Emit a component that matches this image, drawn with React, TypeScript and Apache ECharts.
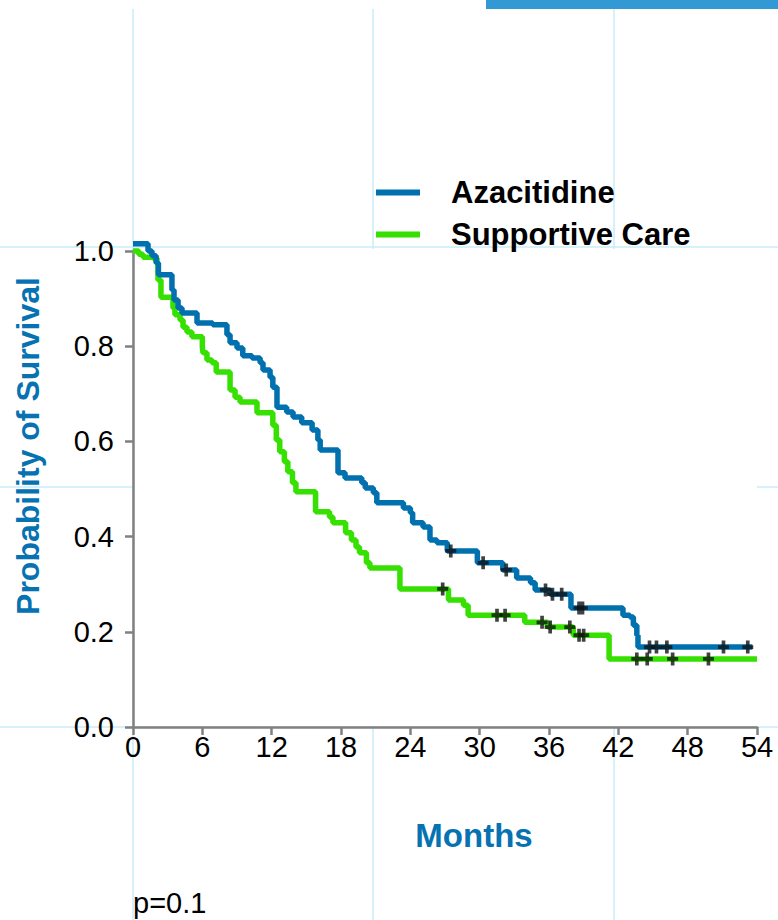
import React, { useEffect, useRef } from "react";
import * as echarts from "echarts";

// Kaplan-Meier curves (months, survival probability after each step)
const aziTimes = [0, 1.3, 1.64, 2.0, 2.2, 3.37, 3.55, 3.9, 4.24, 5.54, 6.9, 8.13, 8.4, 9.0, 9.5, 10.3, 11.0, 11.25, 11.86, 12.1, 12.46, 13.3, 13.85, 14.6, 15.5, 16.0, 16.2, 17.74, 18.35, 19.8, 20.1, 20.8, 21.1, 23.4, 24.0, 24.2, 25.1, 25.7, 26.3, 27.2, 29.8, 32.0, 33.2, 34.4, 34.8, 36.1, 37.9, 42.4, 43.0, 43.3, 43.6, 43.7, 53.6];
const aziSurv = [1.015, 1.0, 0.99, 0.975, 0.95, 0.918, 0.897, 0.88, 0.87, 0.849, 0.845, 0.824, 0.807, 0.796, 0.78, 0.775, 0.765, 0.75, 0.735, 0.714, 0.672, 0.662, 0.651, 0.639, 0.624, 0.603, 0.582, 0.534, 0.523, 0.513, 0.502, 0.492, 0.471, 0.46, 0.45, 0.429, 0.42, 0.393, 0.387, 0.37, 0.345, 0.33, 0.313, 0.303, 0.288, 0.279, 0.25, 0.235, 0.231, 0.214, 0.193, 0.168, 0.168];
const aziCensored = [27.5, 30.3, 32.3, 35.7, 36.3, 37.1, 38.6, 38.9, 44.7, 45.3, 46.2, 51.1, 53.2];

const scTimes = [0, 0.5, 0.87, 1.73, 2.08, 2.16, 2.42, 3.46, 3.63, 4.07, 4.33, 4.67, 5.1, 6.0, 6.06, 6.4, 6.84, 7.2, 8.4, 8.83, 9.26, 10.73, 12.1, 12.4, 12.7, 13.1, 13.4, 13.8, 14.1, 15.8, 17.0, 17.3, 18.4, 18.9, 19.3, 19.6, 20.2, 20.5, 23.1, 27.3, 28.6, 29.0, 33.9, 35.9, 38.1, 41.2, 54];
const scSurv = [1.0, 0.993, 0.987, 0.985, 0.975, 0.939, 0.903, 0.88, 0.866, 0.855, 0.84, 0.83, 0.82, 0.798, 0.786, 0.771, 0.765, 0.746, 0.708, 0.693, 0.683, 0.66, 0.634, 0.603, 0.578, 0.557, 0.536, 0.513, 0.494, 0.452, 0.441, 0.429, 0.408, 0.393, 0.378, 0.366, 0.345, 0.334, 0.29, 0.267, 0.256, 0.235, 0.22, 0.21, 0.193, 0.143, 0.143];
const scCensored = [26.8, 31.5, 32.2, 35.4, 36.1, 37.8, 38.6, 39.0, 43.6, 44.5, 46.7, 49.8];

const seriesNames = ["Azacitidine", "Supportive Care"];
const xTicks = { min: 0, max: 54, interval: 6 };
const yTicks = { min: 0, max: 1, interval: 0.2 };

const BLUE = "#0071ae";
const GREEN = "#36e000";
const TITLE_BLUE = "#0672b2";
const SLIDE_LINE = "#c8ecfa";
const FONT = "'Liberation Sans', Arial, sans-serif";

function survAt(times: number[], surv: number[], t: number) {
  let s = surv[0];
  for (let i = 0; i < times.length; i++) {
    if (times[i] <= t) s = surv[i];
  }
  return s;
}

const plusSymbol = "path://M4,0H8V5H12V9H8V14H4V9H0V5H4Z";

export default function App() {
  const ref = useRef<HTMLDivElement>(null);
  useEffect(() => {
    document.body.style.margin = "0";
    const chart = echarts.init(ref.current!, null, { renderer: "svg" });
    const aziData = aziTimes.map((t, i) => [t, aziSurv[i]]);
    const scData = scTimes.map((t, i) => [t, scSurv[i]]);
    const aziCens = aziCensored.map((t) => [t, survAt(aziTimes, aziSurv, t)]);
    const scCens = scCensored.map((t) => [t, survAt(scTimes, scSurv, t)]);

    const slideLines: any[] = [];
    [133, 373, 614].forEach((x) =>
      slideLines.push({
        type: "line",
        z: -10,
        shape: { x1: x, y1: 9, x2: x, y2: 920 },
        style: { stroke: SLIDE_LINE, lineWidth: 1.5 },
      })
    );
    [247, 487, 727].forEach((y) =>
      slideLines.push({
        type: "line",
        z: -10,
        shape: { x1: 0, y1: y, x2: 778, y2: y },
        style: { stroke: SLIDE_LINE, lineWidth: 1.5 },
      })
    );

    chart.setOption({
      animation: false,
      backgroundColor: "#ffffff",
      textStyle: { fontFamily: FONT },
      grid: { left: 133, right: 21, top: 251, bottom: 193, containLabel: false },
      legend: {
        data: seriesNames,
        orient: "vertical",
        left: 376,
        top: 177,
        padding: 0,
        itemWidth: 44,
        itemHeight: 6,
        itemGap: 11,
        icon: "rect",
        textStyle: {
          fontSize: 31,
          fontWeight: "bold",
          color: "#000",
          fontFamily: FONT,
          padding: [0, 0, 0, 26],
        },
      },
      graphic: [
        ...slideLines,
        {
          type: "rect",
          z: -5,
          shape: { x: 134, y: 249, width: 623, height: 477 },
          style: { fill: "#ffffff" },
        },
        {
          type: "rect",
          z: -5,
          shape: { x: 486, y: 0, width: 292, height: 9 },
          style: { fill: "#3399d4" },
        },
        {
          type: "text",
          x: 474,
          y: 835,
          style: {
            text: "Months",
            fill: TITLE_BLUE,
            font: `bold 33px ${FONT}`,
            align: "center",
            verticalAlign: "middle",
          },
        },
        {
          type: "text",
          x: 28,
          y: 446,
          rotation: Math.PI / 2,
          style: {
            text: "Probability of Survival",
            fill: TITLE_BLUE,
            font: `bold 32px ${FONT}`,
            align: "center",
            verticalAlign: "middle",
          },
        },
        {
          type: "text",
          x: 133,
          y: 903,
          style: {
            text: "p=0.1",
            fill: "#000",
            font: `29px ${FONT}`,
            align: "left",
            verticalAlign: "middle",
          },
        },
      ],
      xAxis: {
        type: "value",
        min: xTicks.min,
        max: xTicks.max,
        interval: xTicks.interval,
        axisLine: { show: true, lineStyle: { color: "#808080", width: 2.5 } },
        axisTick: { show: true, length: 8, lineStyle: { color: "#808080", width: 2.5 } },
        splitLine: { show: false },
        axisLabel: { fontSize: 29, color: "#000", margin: 5, fontFamily: FONT },
      },
      yAxis: {
        type: "value",
        min: yTicks.min,
        max: yTicks.max,
        interval: yTicks.interval,
        axisLine: { show: true, lineStyle: { color: "#808080", width: 2.5 } },
        axisTick: { show: true, length: 8, lineStyle: { color: "#808080", width: 2.5 } },
        splitLine: { show: false },
        axisLabel: {
          fontSize: 29,
          color: "#000",
          margin: 19,
          fontFamily: FONT,
          formatter: (v: number) => v.toFixed(1),
        },
      },
      series: [
        {
          name: seriesNames[0],
          type: "line",
          step: "end",
          data: aziData,
          clip: false,
          showSymbol: false,
          symbol: "none",
          itemStyle: { color: BLUE },
          lineStyle: { color: BLUE, width: 5.5 },
          z: 3,
        },
        {
          name: seriesNames[1],
          type: "line",
          step: "end",
          data: scData,
          clip: false,
          showSymbol: false,
          symbol: "none",
          itemStyle: { color: GREEN },
          lineStyle: { color: GREEN, width: 5.5 },
          z: 2,
        },
        {
          name: "Azacitidine censored",
          type: "scatter",
          data: aziCens,
          symbol: plusSymbol,
          symbolSize: [11, 13],
          itemStyle: { color: "#111" },
          z: 5,
        },
        {
          name: "Supportive Care censored",
          type: "scatter",
          data: scCens,
          symbol: plusSymbol,
          symbolSize: [11, 13],
          itemStyle: { color: "#111" },
          z: 5,
        },
      ],
    });
    return () => chart.dispose();
  }, []);
  return (
    <div
      ref={ref}
      style={{ position: "fixed", left: 0, top: 0, width: 778, height: 920 }}
    />
  );
}
